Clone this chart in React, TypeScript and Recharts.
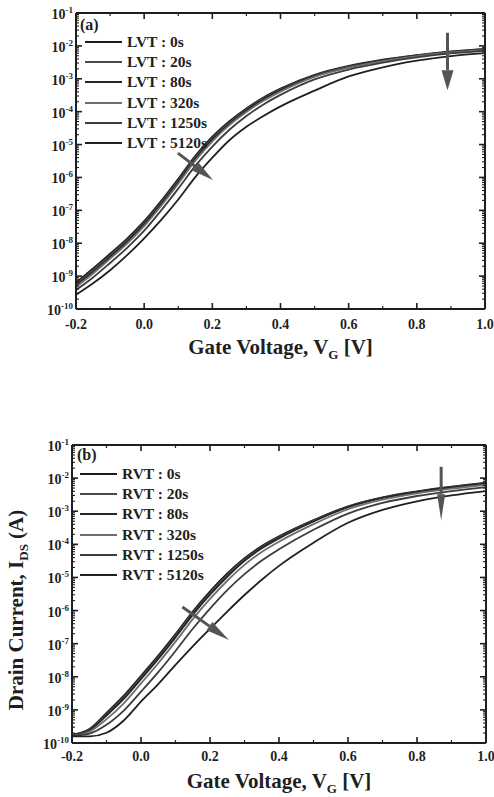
import { LineChart, Line, XAxis, YAxis, Legend, ReferenceLine } from "recharts";

// gate voltage grid (V)
const VG = [-0.2, -0.15, -0.1, -0.05, 0, 0.05, 0.1, 0.15, 0.2, 0.25, 0.3, 0.35, 0.4, 0.5, 0.6, 0.7, 0.8, 0.9, 1.0];

// log10(I_DS), LVT device
const LVT_0S = [-9.2, -8.77, -8.32, -7.86, -7.33, -6.71, -6.04, -5.34, -4.76, -4.29, -3.9, -3.57, -3.3, -2.88, -2.61, -2.42, -2.28, -2.17, -2.09];
const LVT_20S = [-9.24, -8.82, -8.37, -7.91, -7.38, -6.76, -6.09, -5.39, -4.81, -4.33, -3.94, -3.6, -3.33, -2.9, -2.63, -2.44, -2.29, -2.18, -2.1];
const LVT_80S = [-9.28, -8.87, -8.42, -7.96, -7.43, -6.81, -6.14, -5.44, -4.85, -4.37, -3.97, -3.63, -3.36, -2.92, -2.65, -2.45, -2.3, -2.19, -2.11];
const LVT_320S = [-9.33, -8.92, -8.47, -8.01, -7.48, -6.86, -6.19, -5.49, -4.9, -4.41, -4.01, -3.67, -3.39, -2.94, -2.66, -2.46, -2.31, -2.2, -2.12];
const LVT_1250S = [-9.42, -9.04, -8.6, -8.14, -7.62, -7.0, -6.34, -5.65, -5.06, -4.55, -4.13, -3.78, -3.49, -3.02, -2.72, -2.51, -2.35, -2.23, -2.15];
const LVT_5120S = [-9.57, -9.22, -8.82, -8.36, -7.85, -7.29, -6.67, -5.99, -5.4, -4.87, -4.46, -4.13, -3.84, -3.36, -2.93, -2.65, -2.45, -2.31, -2.22];

// log10(I_DS), RVT device
const RVT_0S = [-9.75, -9.58, -9.09, -8.57, -7.97, -7.36, -6.71, -6.03, -5.42, -4.88, -4.42, -4.05, -3.76, -3.27, -2.85, -2.58, -2.4, -2.26, -2.14];
const RVT_20S = [-9.76, -9.6, -9.13, -8.62, -8.02, -7.41, -6.76, -6.08, -5.47, -4.93, -4.46, -4.09, -3.79, -3.29, -2.87, -2.59, -2.41, -2.27, -2.15];
const RVT_80S = [-9.77, -9.62, -9.17, -8.67, -8.07, -7.46, -6.81, -6.13, -5.52, -4.98, -4.5, -4.12, -3.82, -3.31, -2.88, -2.6, -2.42, -2.28, -2.16];
const RVT_320S = [-9.78, -9.66, -9.28, -8.8, -8.2, -7.59, -6.94, -6.26, -5.65, -5.1, -4.62, -4.23, -3.92, -3.39, -2.94, -2.65, -2.46, -2.32, -2.2];
const RVT_1250S = [-9.79, -9.72, -9.45, -9.02, -8.45, -7.86, -7.22, -6.55, -5.94, -5.38, -4.9, -4.49, -4.15, -3.56, -3.07, -2.75, -2.54, -2.39, -2.27];
const RVT_5120S = [-9.8, -9.8, -9.69, -9.32, -8.75, -8.22, -7.64, -7.08, -6.55, -6.03, -5.53, -5.07, -4.65, -3.95, -3.35, -2.96, -2.7, -2.52, -2.39];

const STRESS_TIMES = ["0s", "20s", "80s", "320s", "1250s", "5120s"];
const X_TICKS = [-0.2, -0.1, 0, 0.1, 0.2, 0.3, 0.4, 0.5, 0.6, 0.7, 0.8, 0.9, 1.0];
const DECADES = [-10, -9, -8, -7, -6, -5, -4, -3, -2];

const INK = "#1f1f1f";
const ARROW = "#555";
const SERIF = '"Liberation Serif", "Times New Roman", serif';
const LINE_COLORS = ["#1c1c1c", "#4a4a4a", "#262626", "#6e6e6e", "#3c3c3c", "#202020"];

const Y_TICKS: number[] = [];
DECADES.forEach((d) => {
  for (let k = 1; k <= 9; k++) Y_TICKS.push(k * Math.pow(10, d));
});
Y_TICKS.push(0.1);

function buildRows(series: number[][]) {
  return VG.map((v, i) => {
    const row: Record<string, number> = { vg: v };
    series.forEach((s, j) => {
      row[`s${j}`] = Math.pow(10, s[i]);
    });
    return row;
  });
}

function XTick({ x, y, payload, side, labelDy }: any) {
  const v = payload.value;
  const major = Math.round(v * 10) % 2 === 0;
  const len = major ? 6 : 3;
  const dir = side === "top" ? 1 : -1;
  return (
    <g>
      <line x1={x} y1={y} x2={x} y2={y + dir * len} stroke={INK} strokeWidth={major ? 1.6 : 1.2} />
      {side === "bottom" && major && (
        <text x={x} y={y + labelDy} textAnchor="middle" fontFamily={SERIF} fontWeight="bold" fontSize={14} fill={INK}>
          {v.toFixed(1)}
        </text>
      )}
    </g>
  );
}

function YTick({ x, y, payload, side }: any) {
  const lg = Math.log10(payload.value);
  const major = Math.abs(lg - Math.round(lg)) < 1e-6;
  const len = major ? 6 : 3;
  const dir = side === "left" ? 1 : -1;
  return (
    <g>
      <line x1={x} y1={y} x2={x + dir * len} y2={y} stroke={INK} strokeWidth={major ? 1.6 : 1.1} />
      {side === "left" && major && (
        <text x={x - 3} y={y + 6} textAnchor="end" fontFamily={SERIF} fontWeight="bold" fontSize={14} fill={INK}>
          10
          <tspan dy={-6} fontSize={9}>
            {Math.round(lg)}
          </tspan>
        </text>
      )}
    </g>
  );
}

function arrowShape(headLen: number, headHalf: number) {
  return (p: any) => {
    const { x1, y1, x2, y2 } = p;
    const d = Math.hypot(x2 - x1, y2 - y1) || 1;
    const ux = (x2 - x1) / d;
    const uy = (y2 - y1) / d;
    const bx = x2 - ux * headLen;
    const by = y2 - uy * headLen;
    return (
      <g>
        <line x1={x1} y1={y1} x2={bx} y2={by} stroke={ARROW} strokeWidth={3} />
        <polygon
          points={`${x2},${y2} ${bx - uy * headHalf},${by + ux * headHalf} ${bx + uy * headHalf},${by - ux * headHalf}`}
          fill={ARROW}
        />
      </g>
    );
  };
}

// legend keeps the stress order (0s ... 5120s), not alphabetical
function SeriesLegend({ payload }: any) {
  const items = [...(payload || [])].sort(
    (a: any, b: any) => Number(String(a.dataKey).slice(1)) - Number(String(b.dataKey).slice(1))
  );
  return (
    <div>
      {items.map((p: any) => (
        <div key={p.value} style={{ display: "flex", alignItems: "center", height: 20.2 }}>
          <svg width={37} height={4}>
            <line x1={0} y1={2} x2={37} y2={2} stroke={p.color} strokeWidth={2} />
          </svg>
          <span style={{ marginLeft: 5, fontFamily: SERIF, fontWeight: "bold", fontSize: 15.5, color: INK, whiteSpace: "nowrap" }}>
            {p.value}
          </span>
        </div>
      ))}
    </div>
  );
}

type Arrow = { from: [number, number]; to: [number, number]; head: [number, number] };

type PanelProps = {
  tag: string;
  device: string;
  series: number[][];
  height: number;
  marginTop: number;
  marginRight: number;
  yAxisWidth: number;
  xAxisHeight: number;
  tickLabelDy: number;
  titleDy: number;
  tagDx: number;
  tagDy: number;
  legendLeft: number;
  legendTop: number;
  arrows: Arrow[];
  showYTitle?: boolean;
  yTitleX?: number;
  yTitleY?: number;
};

function Panel(props: PanelProps) {
  const data = buildRows(props.series);
  return (
    <LineChart
      width={494}
      height={props.height}
      data={data}
      margin={{ top: props.marginTop, right: props.marginRight, bottom: 0, left: 0 }}
    >
      <XAxis
        xAxisId="bottom"
        dataKey="vg"
        type="number"
        domain={[-0.2, 1.0]}
        allowDataOverflow
        ticks={X_TICKS}
        interval={0}
        height={props.xAxisHeight}
        tickSize={0}
        tickMargin={0}
        tickLine={false}
        axisLine={{ stroke: INK, strokeWidth: 2 }}
        tick={(p: any) => <XTick {...p} side="bottom" labelDy={props.tickLabelDy} />}
        label={(p: any) => {
          const vb = p.viewBox;
          return (
            <text
              x={vb.x + vb.width / 2}
              y={vb.y + props.titleDy}
              textAnchor="middle"
              fontFamily={SERIF}
              fontWeight="bold"
              fontSize={21}
              fill={INK}
            >
              Gate Voltage, V
              <tspan dy={5} fontSize={13}>
                G
              </tspan>
              <tspan dy={-5}> [V]</tspan>
            </text>
          );
        }}
      />
      <XAxis
        xAxisId="top"
        orientation="top"
        dataKey="vg"
        type="number"
        domain={[-0.2, 1.0]}
        allowDataOverflow
        ticks={X_TICKS}
        interval={0}
        height={1}
        tickSize={0}
        tickMargin={0}
        tickLine={false}
        axisLine={{ stroke: INK, strokeWidth: 2 }}
        tick={(p: any) => <XTick {...p} side="top" />}
      />
      <YAxis
        yAxisId="left"
        type="number"
        scale="log"
        domain={[1e-10, 1e-1]}
        allowDataOverflow
        ticks={Y_TICKS}
        interval={0}
        width={props.yAxisWidth}
        tickSize={0}
        tickMargin={0}
        tickLine={false}
        axisLine={{ stroke: INK, strokeWidth: 2 }}
        tick={(p: any) => <YTick {...p} side="left" />}
        label={(p: any) => {
          const vb = p.viewBox;
          const px = vb.x + vb.width;
          return (
            <g>
              <text x={px + props.tagDx} y={vb.y + props.tagDy} fontFamily={SERIF} fontWeight="bold" fontSize={16} fill={INK}>
                {props.tag}
              </text>
              {props.showYTitle && (
                <text
                  x={props.yTitleX}
                  y={props.yTitleY}
                  transform={`rotate(-90 ${props.yTitleX} ${props.yTitleY})`}
                  textAnchor="middle"
                  fontFamily={SERIF}
                  fontWeight="bold"
                  fontSize={21}
                  fill={INK}
                >
                  Drain Current, I
                  <tspan dy={5} fontSize={13}>
                    DS
                  </tspan>
                  <tspan dy={-5}> (A)</tspan>
                </text>
              )}
            </g>
          );
        }}
      />
      <YAxis
        yAxisId="right"
        orientation="right"
        type="number"
        scale="log"
        domain={[1e-10, 1e-1]}
        allowDataOverflow
        ticks={Y_TICKS}
        interval={0}
        width={1}
        tickSize={0}
        tickMargin={0}
        tickLine={false}
        axisLine={{ stroke: INK, strokeWidth: 2 }}
        tick={(p: any) => <YTick {...p} side="right" />}
      />
      <Legend
        layout="vertical"
        align="center"
        verticalAlign="middle"
        content={<SeriesLegend />}
        wrapperStyle={{ left: props.legendLeft, top: props.legendTop, width: "auto", height: "auto" }}
      />
      {props.series.map((_, j) => (
        <Line
          key={j}
          xAxisId="bottom"
          yAxisId="left"
          dataKey={`s${j}`}
          name={`${props.device} : ${STRESS_TIMES[j]}`}
          type="monotone"
          stroke={LINE_COLORS[j]}
          strokeWidth={1.8}
          dot={false}
          isAnimationActive={false}
        />
      ))}
      {props.arrows.map((a, i) => (
        <ReferenceLine
          key={`arrow-${i}`}
          xAxisId="bottom"
          yAxisId="left"
          ifOverflow="visible"
          segment={[
            { x: a.from[0], y: Math.pow(10, a.from[1]) },
            { x: a.to[0], y: Math.pow(10, a.to[1]) },
          ]}
          shape={arrowShape(a.head[0], a.head[1])}
        />
      ))}
    </LineChart>
  );
}

// stress-direction arrows, in (V, log10 I) units
const ARROWS_A: Arrow[] = [
  { from: [0.89, -1.6], to: [0.89, -3.35], head: [20, 6] },
  { from: [0.099, -5.26], to: [0.202, -6.08], head: [22, 5] },
];
const ARROWS_B: Arrow[] = [
  { from: [0.87, -1.66], to: [0.87, -3.27], head: [26, 4] },
  { from: [0.12, -5.89], to: [0.255, -6.89], head: [24, 5] },
];

export default function App() {
  return (
    <div style={{ position: "absolute", left: 0, top: 0, width: 494, height: 797, background: "#fff", overflow: "hidden" }}>
      <div style={{ position: "absolute", left: 0, top: 0 }}>
        <Panel
          tag="(a)"
          device="LVT"
          series={[LVT_0S, LVT_20S, LVT_80S, LVT_320S, LVT_1250S, LVT_5120S]}
          height={390}
          marginTop={12}
          marginRight={8}
          yAxisWidth={76}
          xAxisHeight={81}
          tickLabelDy={20}
          titleDy={45}
          tagDx={4}
          tagDy={17}
          legendLeft={85}
          legendTop={32}
          arrows={ARROWS_A}
        />
      </div>
      <div style={{ position: "absolute", left: 0, top: 390 }}>
        <Panel
          tag="(b)"
          device="RVT"
          series={[RVT_0S, RVT_20S, RVT_80S, RVT_320S, RVT_1250S, RVT_5120S]}
          height={407}
          marginTop={54}
          marginRight={7}
          yAxisWidth={72}
          xAxisHeight={54}
          tickLabelDy={18}
          titleDy={45}
          tagDx={5}
          tagDy={15}
          legendLeft={80}
          legendTop={74}
          arrows={ARROWS_B}
          showYTitle
          yTitleX={23}
          yTitleY={220}
        />
      </div>
    </div>
  );
}
